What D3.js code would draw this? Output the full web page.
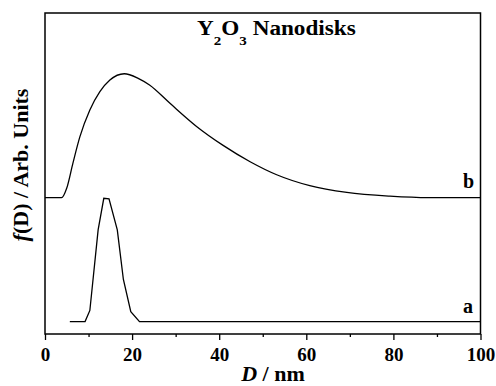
<!DOCTYPE html>
<html>
<head>
<meta charset="utf-8">
<script src="https://cdn.jsdelivr.net/npm/d3@7"></script>
<style>
body { margin:0; background:#fff; }
svg text { font-family:"Liberation Serif","Times New Roman",serif; font-weight:bold; fill:#000; }
.line { fill:none; stroke:#000; stroke-width:1.3; }
</style>
</head>
<body>
<div id="chart"></div>
<script>
// size distributions
var dA = [5.7, 9.2, 10.3, 12.2, 13.5, 14.7, 16.6, 18.0, 19.7, 21.7, 100];
var fA = [0, 0, 0.09, 0.74, 0.995, 0.99, 0.74, 0.34, 0.08, 0, 0];

var dB = [0, 3.8, 5.0, 6.4, 8.0, 10.3, 12.6, 14.9, 18.2, 21.4, 24.0, 28.7, 34.8, 40.9, 47.1, 53.2, 60.8, 69.3, 79.2, 88, 100];
var fB = [0, 0, 0.078, 0.277, 0.49, 0.707, 0.855, 0.949, 1.0, 0.963, 0.909, 0.761, 0.575, 0.422, 0.29, 0.185, 0.097, 0.042, 0.012, 0, 0];
var offsetB = 1;

var xTicks = [0, 20, 40, 60, 80, 100];
var xMinor = [10, 30, 50, 70, 90];

var margin = { top:13, right:15.5, bottom:52, left:45 },
	width = 496 - margin.left - margin.right,
	height = 386 - margin.top - margin.bottom;

var x = d3.scaleLinear().domain([0, 100]).range([0, width]);
var y = d3.scaleLinear().domain([-0.1, 2.49]).range([height, 0]);

var svg = d3.select("#chart").append("svg")
	.attr("width", 496)
	.attr("height", 386)
	.append("g").attr("transform", "translate(" + margin.left + "," + margin.top + ")");

var lineA = d3.line()
	.x(function(d, i) { return x(dA[i]); })
	.y(function(d) { return y(d); });

var lineB = d3.line()
	.x(function(d, i) { return x(dB[i]); })
	.y(function(d) { return y(d + offsetB); })
	.curve(d3.curveMonotoneX);

svg.append("path").datum(fA).attr("class", "line").attr("d", lineA);
svg.append("path").datum(fB).attr("class", "line").attr("d", lineB);

// frame
svg.append("rect").attr("width", width).attr("height", height)
	.attr("fill", "none").attr("stroke", "#000").attr("stroke-width", 1.5);

// x axis
var xax = svg.append("g").attr("class", "xax")
	.attr("transform", "translate(0," + height + ")")
	.call(d3.axisBottom(x).tickValues(xTicks).tickSize(6).tickPadding(7.5).tickFormat(d3.format("d")));
xax.select(".domain").remove();
xax.selectAll("line").attr("stroke-width", 1.3);
xax.selectAll("text").style("font-size", "19px").attr("font-family", null);

svg.append("g").attr("class", "minor")
	.attr("transform", "translate(0," + height + ")")
	.call(d3.axisBottom(x).tickValues(xMinor).tickSize(3).tickFormat(""))
	.call(function(g) { g.select(".domain").remove(); g.selectAll("line").attr("stroke-width", 1.3); });

// labels
svg.append("text").attr("x", x(96)).attr("y", y(offsetB) - 10)
	.style("font-size", "20px").text("b");
svg.append("text").attr("x", x(96)).attr("y", y(0) - 9)
	.style("font-size", "20px").text("a");

var title = svg.append("text").attr("transform", "translate(152,22) scale(1.16,1)").style("font-size", "20px");
title.append("tspan").text("Y");
title.append("tspan").attr("dy", 10).style("font-size", "13px").text("2");
title.append("tspan").attr("dy", -10).text("O");
title.append("tspan").attr("dy", 10).style("font-size", "13px").text("3");
title.append("tspan").attr("dy", -10).text(" Nanodisks");

var xl = svg.append("text").attr("x", 228).attr("y", height + 47)
	.attr("text-anchor", "middle").style("font-size", "22px");
xl.append("tspan").style("font-style", "italic").text("D");
xl.append("tspan").text(" / nm");

var yl = svg.append("text")
	.attr("transform", "translate(" + (-17) + "," + (152) + ") rotate(-90)")
	.attr("text-anchor", "middle").style("font-size", "22px");
yl.append("tspan").style("font-style", "italic").text("f");
yl.append("tspan").text("(D) / Arb. Units");
</script>
</body>
</html>
